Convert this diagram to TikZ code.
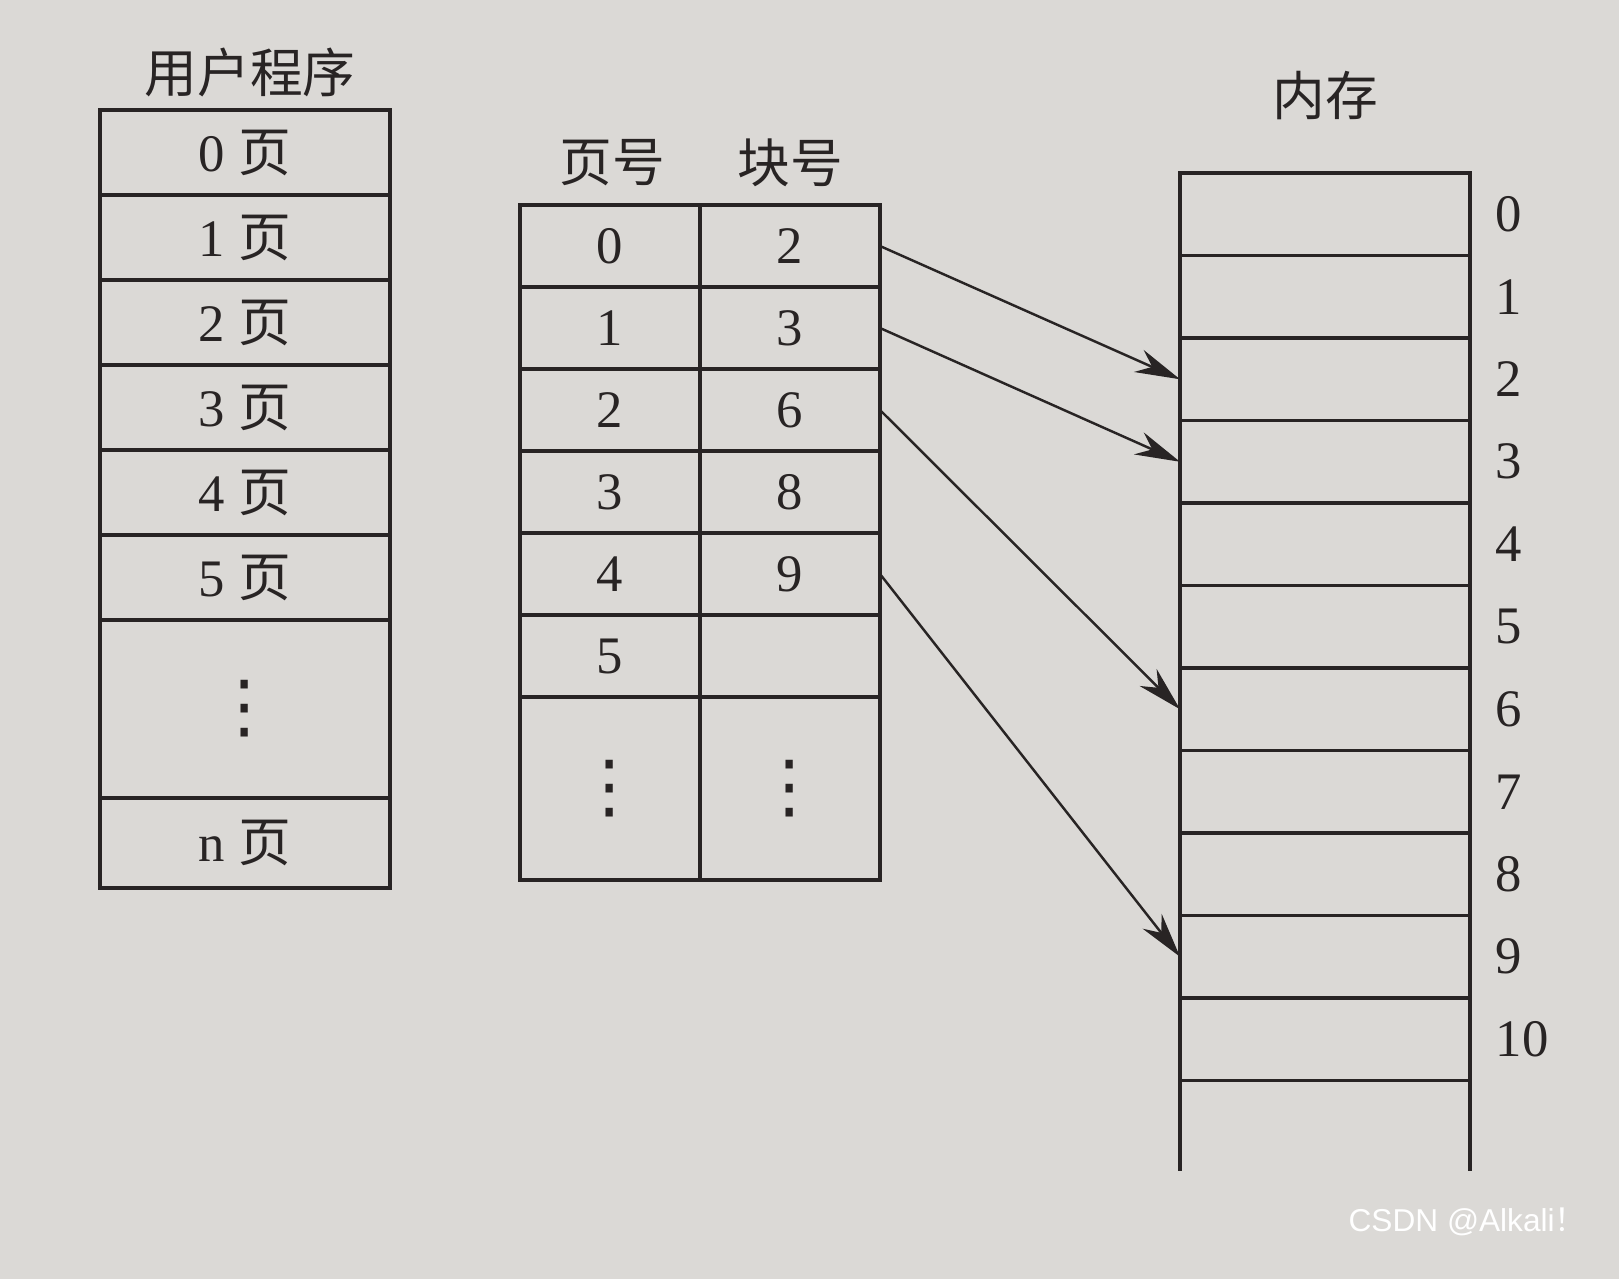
\documentclass[tikz,border=0pt]{standalone}
\usepackage{fontspec}
\setmainfont{Liberation Serif}
\setsansfont{Liberation Sans}
\newfontfamily\cjk{Noto Sans CJK SC}
\newfontfamily\sym{DejaVu Sans}
\usetikzlibrary{positioning,arrows.meta}
\definecolor{paper}{RGB}{219,217,214}
\definecolor{ink}{RGB}{40,36,36}
\newcommand{\vdotsym}{{\sym\fontsize{20}{22}\selectfont ⋮}}
\tikzset{
  page/.style={draw,inner sep=0pt,outer sep=0pt,minimum width=29mm,minimum height=8.5mm},
  tcell/.style={draw,inner sep=0pt,outer sep=0pt,minimum width=18mm,minimum height=8.2mm},
  mcell/.style={draw,inner sep=0pt,outer sep=0pt,minimum width=29mm,minimum height=8.25mm},
  link/.style={line width=0.7pt,-{Stealth[length=4.5mm,width=2.4mm]}}
}
\begin{document}
\begin{tikzpicture}[x=0.1mm,y=-0.1mm,line width=1.1pt,color=ink,font=\fontsize{15}{18}\selectfont]
\useasboundingbox[fill=paper] (0,0) rectangle (1619,1279);

% user program
\node (ut) at (250,72) {\cjk 用户程序};
\node[page,anchor=north] (u0) at (245,110) {0 {\cjk 页}};
\foreach \i [remember=\i as \j (initially 0)] in {1,...,5}
  \node[page,below=0pt of u\j] (u\i) {\i\ {\cjk 页}};
\node[page,minimum height=17.8mm,below=0pt of u5] (udots) {\vdotsym};
\node[page,minimum height=9mm,below=0pt of udots] (un) {n {\cjk 页}};

% page table
\node (ph) at (612,163) {\cjk 页号};
\node (bh) at (790,163) {\cjk 块号};
\coordinate (pt) at (700,205);
\node[tcell,anchor=north east] (p0) at (pt) {0};
\node[tcell,right=0pt of p0] (b0) {2};
\foreach \i/\b [remember=\i as \j (initially 0)] in {1/3,2/6,3/8,4/9,5/{}}{
  \node[tcell,below=0pt of p\j] (p\i) {\i};
  \node[tcell,right=0pt of p\i] (b\i) {\b};
}
\node[tcell,minimum height=18.3mm,below=0pt of p5] (pdots) {\vdotsym};
\node[tcell,minimum height=18.3mm,right=0pt of pdots] (bdots) {\vdotsym};

% memory
\node (mt) at (1325,95) {\cjk 内存};
\node[mcell,anchor=north] (m0) at (1325,173) {};
\node[right=1.2mm of m0.east] (l0) {0};
\foreach \i [remember=\i as \j (initially 0)] in {1,...,10}{
  \node[mcell,below=0pt of m\j] (m\i) {};
  \node[right=1.2mm of m\i.east] (l\i) {\i};
}
\coordinate[below=9mm of m10.south west] (mbl);
\coordinate[below=9mm of m10.south east] (mbr);
\draw (m10.south west) -- (mbl);
\draw (m10.south east) -- (mbr);

% mapping
\foreach \p/\m in {0/2,1/3,2/6,4/9}
  \draw[link] (b\p.east) -- (m\m.west);

\node[anchor=east,text=white,font=\sffamily\fontsize{9}{11}\selectfont] (wm) at (1600,1222) {CSDN @Alkali{\cjk ！}};
\end{tikzpicture}
\end{document}
